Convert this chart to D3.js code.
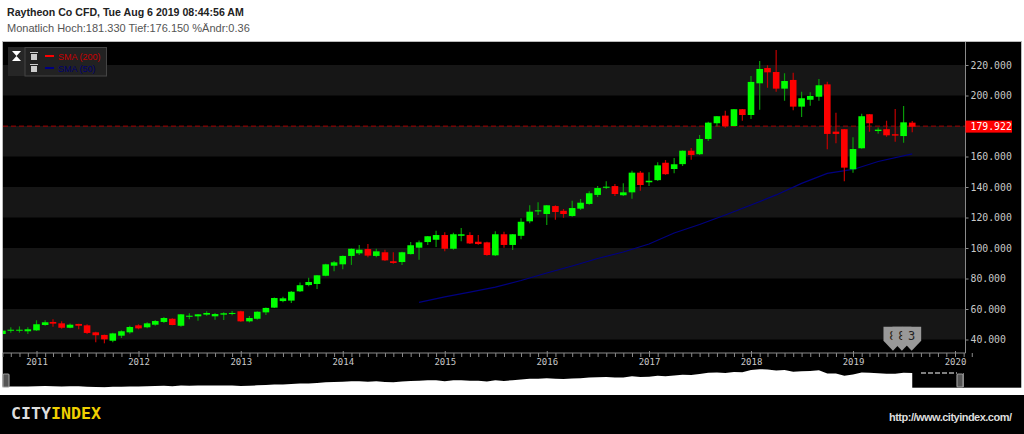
<!DOCTYPE html>
<html>
<head>
<meta charset="utf-8">
<script src="https://cdnjs.cloudflare.com/ajax/libs/d3/7.8.5/d3.min.js"></script>
<style>
	html, body { margin: 0; padding: 0; background: #fff; overflow: hidden; }
	svg { display: block; }
	.head { font-family: "Liberation Sans", Arial, sans-serif; }
	.axis text { font-family: "DejaVu Sans Mono", monospace; font-size: 9px; fill: #c8c8c8; }
	.yaxis text { font-size: 9.8px; }
	.axis line { stroke: #8a8a8a; }
</style>
</head>
<body>
<div id="chart"></div>
<script>

const titleText = "Raytheon Co CFD, Tue Aug 6 2019 08:44:56 AM";
const infoText = "Monatlich Hoch:181.330 Tief:176.150 %Ändr:0.36";

// monthly candles, first one is Sep 2010
const firstMonth = [2010, 8];
const opens = [43.6,45.8,45.8,45.4,
	46,49.5,51.5,50.6,47.7,50.2,49.3,44.7,43,39.2,42.5,44.7,
	49.3,48,49.7,51.5,53.6,49,54.9,55.2,56.3,55.2,56.3,56.9,
	58.5,51.9,53.6,57.8,60.9,65.2,65.5,71.6,75.7,76.4,81.8,88.4,
	89.3,94.8,96.5,99.3,94.8,97.2,91.3,90.8,96,100.2,103.9,105.4,
	108.5,99.5,108,108.5,104.1,103.7,95.2,109,102,108,117.5,124,
	122.3,127.5,124.4,121,125.8,128.9,134.8,139.5,140.6,134.6,136.5,149.4,
	143.1,144.5,155.9,151.8,155,163.8,161.5,171.5,181.8,186.8,180,191,
	187.2,208,218,215.4,204.5,210.2,192.7,197.2,199.2,207.3,176.3,177.9,
	151.6,165.4,187.7,176.7,177.9,174.6,173.4,182.2];
const closes = [45.8,46.4,46.4,46.7,
	50,51.3,50.4,47.7,49.7,49,44.3,42.8,40.1,44,45.4,48.2,
	47.3,50.6,52.1,54.1,49.5,56.5,55.6,56.5,57.4,56.7,57.2,57.4,
	51.9,54.1,58.2,60.7,67.2,67,71.3,75.6,77.7,82.1,89.3,90.6,
	94.8,99.5,98.9,95,97.8,91.9,90.2,97.2,101.8,103.7,107.7,108.5,
	99.5,109,109,103,102.6,95.4,109,102,109,117.2,123.8,124.7,
	128,123.6,122.3,126.2,129.7,135.9,139.3,140.2,135.4,136.5,149.4,141.3,
	144.1,154.2,148.4,154.9,163.8,161,171.5,182.2,186.4,179.8,191,187.2,
	208.9,217.4,215.2,204.5,209.5,192.7,198.2,199.7,206.7,174.8,174.8,152.7,
	164.9,186.4,181.8,177.6,173.9,173.7,182.4,179.5];
const highs = [47.3,48,48.6,48,
	52.6,52.6,53.2,51.9,50.5,50.3,50,45.1,43.2,44.5,46,49,
	50,51.3,52.8,54.8,54,56.8,57.2,56.8,58.5,57.4,57.8,58.7,
	58.8,55.4,58.5,61,67.5,68,71.8,77.3,80.5,82.3,89.6,91.5,
	95.1,99.7,102,102.6,99.5,98.9,97.2,97.5,104,105,107.9,111.3,
	110.3,110,113.1,110.3,108.5,104.1,111,110.7,109.2,119.5,128,130,
	128.2,128,125.5,131,132.1,137.2,140.6,143.7,142,142.5,150.7,150.5,
	149.6,156.2,157.7,159,164,165.6,174.1,182.8,186.6,190,191.2,191.2,
	212.8,222.6,219.8,229.8,214.6,215,202.5,202.1,210.8,209,188.7,178,
	172.6,188.1,187.9,179,183.5,191.1,193.1,183.3];
const lows = [43.4,44.5,44.5,43.6,
	45.6,49,48.4,47.1,47.4,46.7,43.6,38.2,37.5,38.2,41,43.8,
	46.7,47.3,49,50.8,49.3,48.4,53.2,52.3,55.6,53,52.8,55.9,
	51.6,51.2,53,56.1,60.7,64.5,64,71.2,75,73.1,81.5,84.7,
	86,88.9,95.4,94,93.9,91.5,89.7,88.9,95.7,92.3,102,100.6,
	97.8,98.9,104.4,102.6,102.2,95,94.7,100.2,98.7,105.7,116.2,121.6,
	115.1,118.6,119.9,120.5,124.9,128.4,133.4,138.7,134.1,134.1,132.3,137.6,
	140.6,143.9,148,149,153.8,157.9,161,170.1,179.7,178.9,179.9,183.5,
	184.6,190.7,205.1,202.5,196.6,190.3,185.9,193.3,196.6,164.7,168.7,143.7,
	149.4,165.1,176.3,175,173,169.7,169,175.9];

// SMA (50)
const smaDates = ["2014-10","2015-01","2015-04","2015-07","2015-10","2016-01","2016-04","2016-07","2016-10","2017-01",
	"2017-04","2017-07","2017-10","2018-01","2018-04","2018-07","2018-10","2019-01","2019-04","2019-08"];
const smaValues = [64.4,68,71.1,74.4,78.7,83.6,88.2,93.1,97.4,102.6,
	109.8,115.4,121.6,128.2,134.8,142.4,148.9,151.5,156.7,161.7];

const lastPrice = 179.922;
const yTicks = [40,60,80,100,120,140,160,180,200,220];
const yLabelSkip = [180]; // hidden behind the price tag
const bandStarts = [40,80,120,160,200];
const eventDates = ["2019-05-24","2019-06-25","2019-07-30"];
const eventLabels = ["8","8","3"];
const legendNames = ["SMA (200)","SMA (50)"];
const legendColors = ["#ff0000","#000080"];
const legendTextColors = ["#c80000","#000070"];

const width = 1024, height = 434;
const plot = {left: 3, right: 965.5, top: 42, bottom: 353};

const svg = d3.select("#chart").append("svg")
	.attr("width", width)
	.attr("height", height);

const x = d3.scaleUtc()
	.domain([new Date(Date.UTC(2011,0,1)), new Date(Date.UTC(2020,0,1))])
	.range([36.5, 955]);
const y = d3.scaleLinear()
	.domain([40, 220])
	.range([339.5, 65]);

const months = d3.utcMonth.range(new Date(Date.UTC(firstMonth[0],firstMonth[1],1)), new Date(Date.UTC(2019,8,1)));
const candles = months.map((d,i) => ({date: d, open: opens[i], close: closes[i], high: highs[i], low: lows[i]}));

// page background + panels
svg.append("rect").attr("width", width).attr("height", height).attr("fill", "#fff");
svg.append("rect").attr("x", 2).attr("y", 41).attr("width", 1020).attr("height", 347).attr("fill", "#bbb");
svg.append("rect").attr("x", 3).attr("y", 42).attr("width", 1018).attr("height", 346).attr("fill", "#000");
svg.append("rect").attr("x", 0).attr("y", 395).attr("width", width).attr("height", 39).attr("fill", "#000");

svg.append("text").attr("class", "head").attr("x", 7).attr("y", 15.5)
	.attr("font-size", 10.6).attr("font-weight", "bold").attr("fill", "#222").text(titleText);
svg.append("text").attr("class", "head").attr("x", 7).attr("y", 32)
	.attr("font-size", 11).attr("fill", "#555").text(infoText);

// alternating bands
svg.selectAll(".band")
	.data(bandStarts)
	.enter().append("rect")
	.attr("class", "band")
	.attr("x", plot.left)
	.attr("width", plot.right - plot.left)
	.attr("y", d => y(d + 20))
	.attr("height", d => y(d) - y(d + 20))
	.attr("fill", "#161616");

// current price line
svg.append("line")
	.attr("x1", plot.left).attr("x2", plot.right)
	.attr("y1", y(lastPrice)).attr("y2", y(lastPrice))
	.attr("stroke", "#a80000")
	.attr("stroke-dasharray", "5,3");

svg.append("clipPath").attr("id", "plotClip").append("rect")
	.attr("x", plot.left).attr("y", plot.top)
	.attr("width", plot.right - plot.left).attr("height", plot.bottom - plot.top);

const marks = svg.append("g").attr("clip-path", "url(#plotClip)");

// SMA line
const smaLine = d3.line()
	.x((d,i) => x(new Date(d + "-01T00:00:00Z")))
	.y((d,i) => y(smaValues[i]));
marks.append("path")
	.attr("d", smaLine(smaDates))
	.attr("fill", "none")
	.attr("stroke", "#000080")
	.attr("stroke-width", 1.2);

// candles
const up = d => d.close >= d.open;
marks.selectAll(".wick")
	.data(candles)
	.enter().append("line")
	.attr("class", "wick")
	.attr("x1", d => x(d.date)).attr("x2", d => x(d.date))
	.attr("y1", d => y(d.high)).attr("y2", d => y(d.low))
	.attr("stroke", d => up(d) ? "#089a08" : "#c00000")
	.attr("stroke-width", 1.2);
marks.selectAll(".body")
	.data(candles)
	.enter().append("rect")
	.attr("class", "body")
	.attr("x", d => x(d.date) - 3.3)
	.attr("width", 6.6)
	.attr("y", d => y(Math.max(d.open, d.close)))
	.attr("height", d => Math.max(1, Math.abs(y(d.open) - y(d.close))))
	.attr("fill", d => up(d) ? "#00ff00" : "#ff0000");

// y axis
const yAxis = d3.axisRight(y)
	.tickValues(yTicks.filter(d => !yLabelSkip.includes(d)))
	.tickSize(3)
	.tickPadding(2)
	.tickFormat(d3.format(".3f"));
const yG = svg.append("g").attr("class", "axis yaxis")
	.attr("transform", `translate(${plot.right},0)`)
	.call(yAxis);
yG.select(".domain").remove();
svg.append("line")
	.attr("x1", plot.right).attr("x2", plot.right)
	.attr("y1", plot.top).attr("y2", plot.bottom)
	.attr("stroke", "#8a8a8a");

// x axis, a tick per month and a label per year
const xTickDates = d3.utcMonth.range(new Date(Date.UTC(2010,8,1)), new Date(Date.UTC(2020,3,1)));
const xAxis = d3.axisBottom(x)
	.tickValues(xTickDates)
	.tickSize(4)
	.tickPadding(2)
	.tickFormat(d => d.getUTCMonth() === 0 ? d.getUTCFullYear() : "");
const xG = svg.append("g").attr("class", "axis")
	.attr("transform", `translate(0,${plot.bottom})`)
	.call(xAxis);
xG.select(".domain").remove();
xG.selectAll(".tick").filter(d => d.getUTCMonth() === 0).select("line")
	.attr("y1", -2).attr("stroke", "#ddd");
svg.append("line")
	.attr("x1", plot.left).attr("x2", plot.right)
	.attr("y1", plot.bottom).attr("y2", plot.bottom)
	.attr("stroke", "#8a8a8a");

// price tag
svg.append("rect")
	.attr("x", plot.right).attr("y", y(lastPrice) - 5.5)
	.attr("width", 46.5).attr("height", 12)
	.attr("fill", "#ff0000");
svg.append("text")
	.attr("x", plot.right + 5).attr("y", y(lastPrice) + 3.5)
	.attr("font-family", "DejaVu Sans Mono, monospace")
	.attr("font-size", 9.8).attr("fill", "#fff")
	.text(lastPrice.toFixed(3));

// event flags
const flags = svg.append("g").selectAll("g")
	.data(eventDates)
	.enter().append("g")
	.attr("transform", d => `translate(${x(new Date(d + "T00:00:00Z"))},326.7)`);
flags.append("path")
	.attr("d", "M-9.5,0H9.5V14L0,24L-9.5,14Z")
	.attr("fill", "#999");
flags.append("text")
	.attr("y", 13.5).attr("text-anchor", "middle")
	.attr("font-family", "DejaVu Sans Mono, monospace")
	.attr("font-size", 12).attr("fill", "#222")
	.text((d,i) => eventLabels[i]);

// overview strip under the axis
const xOver = x.copy();
const yOver = d3.scaleLinear().domain([45, 210]).range([386.7, 370]);
svg.append("rect").attr("x", 1).attr("y", 387.7).attr("width", 1023).attr("height", 7.3).attr("fill", "#fff");
const overArea = d3.area()
	.x(d => Math.max(1, xOver(d.date)))
	.y0(395)
	.y1(d => yOver(d.close));
svg.append("path").attr("d", overArea(candles)).attr("fill", "#fff");
svg.append("line").attr("x1", 921).attr("x2", 957).attr("y1", 373).attr("y2", 373)
	.attr("stroke", "#fff").attr("stroke-dasharray", "5,2");
svg.append("line").attr("x1", 963.5).attr("x2", 963.5).attr("y1", 373).attr("y2", 387)
	.attr("stroke", "#777");
[[3,374],[957,374]].forEach(h => {
	svg.append("rect").attr("x", h[0]).attr("y", h[1]).attr("width", 6).attr("height", 13).attr("rx", 1)
		.attr("fill", "#555").attr("stroke", "#999").attr("stroke-width", 1.2);
});

// legend box
const legend = svg.append("g");
legend.append("rect").attr("x", 8).attr("y", 47).attr("width", 17).attr("height", 29).attr("fill", "#262626");
legend.append("rect").attr("x", 25).attr("y", 47.5).attr("width", 81.5).attr("height", 28.5)
	.attr("fill", "#222").attr("stroke", "#444");
legend.append("path").attr("d", "M12,51H21L16.5,56L21,61H12L16.5,56Z").attr("fill", "#fff");
const legendRows = legend.selectAll(".row")
	.data(legendNames)
	.enter().append("g")
	.attr("class", "row")
	.attr("transform", (d,i) => `translate(0,${56 + i*12})`);
legendRows.append("path")
	.attr("d", "M30,-4H38V-3H30ZM31,-2H37V4H31Z")
	.attr("fill", "#ccc");
legendRows.append("line")
	.attr("x1", 45).attr("x2", 54)
	.attr("stroke", (d,i) => legendColors[i]).attr("stroke-width", 2);
legendRows.append("text")
	.attr("x", 58).attr("y", 3.5)
	.attr("font-family", "Liberation Sans, Arial, sans-serif")
	.attr("font-size", 9)
	.attr("fill", (d,i) => legendTextColors[i])
	.text(d => d);

// footer
const logo = svg.append("text").attr("x", 11).attr("y", 419)
	.attr("font-family", "DejaVu Sans Mono, monospace")
	.attr("font-size", 16.6).attr("font-weight", "bold");
logo.append("tspan").attr("fill", "#ddd").text("CITY");
logo.append("tspan").attr("fill", "#f0d000").text("INDEX");
svg.append("text").attr("x", 889).attr("y", 421)
	.attr("font-family", "Liberation Sans, Arial, sans-serif")
	.attr("font-size", 11).attr("font-weight", "bold")
	.attr("fill", "#ddd")
	.attr("textLength", 123)
	.text("http://www.cityindex.com/");

</script>
</body>
</html>
